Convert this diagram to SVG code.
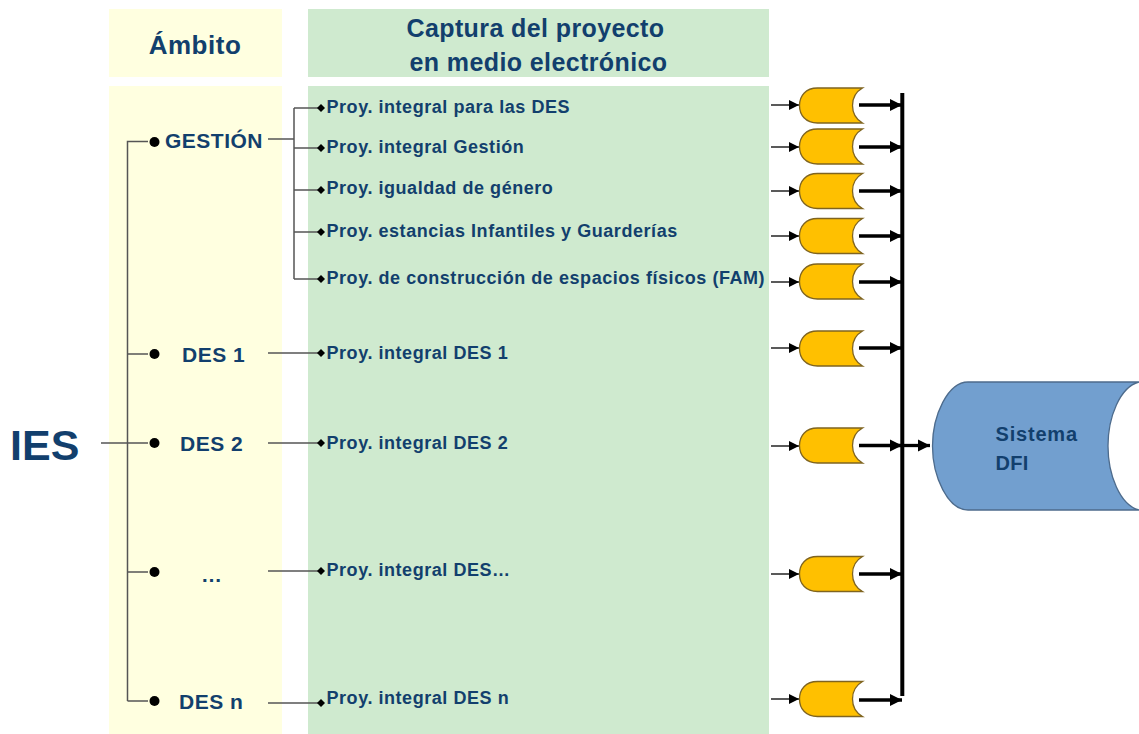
<svg xmlns="http://www.w3.org/2000/svg" width="1139" height="734" viewBox="0 0 1139 734">
<defs>
<style>
text{font-family:"Liberation Sans",Arial,sans-serif;font-weight:bold;fill:#123f6d}
.p{font-size:18px;letter-spacing:.55px}
.a{font-size:21px;letter-spacing:.5px}
.h{font-size:25px;letter-spacing:.4px}
.l{fill:none;stroke:#555;stroke-width:1.5}
.t{fill:none;stroke:#000;stroke-width:1.3}
.b{fill:none;stroke:#000;stroke-width:3.3}
.c{fill:#ffc000;stroke:#7f6420;stroke-width:1.3}
</style>
<marker id="ar" viewBox="0 0 10 10" refX="10" refY="5" markerWidth="11" markerHeight="10" markerUnits="userSpaceOnUse" orient="auto"><path d="M0 0L10 5L0 10Z" fill="#000"/></marker>
<marker id="ab" viewBox="0 0 10 10" refX="10" refY="5" markerWidth="12" markerHeight="13" markerUnits="userSpaceOnUse" orient="auto"><path d="M0 0L10 5L0 10Z" fill="#000"/></marker>
<path id="dr" class="c" d="M63 0H18C6 0 0 8 0 17.5S6 35 18 35H63C56 31 53 24 53 17.5S56 4 63 0Z"/>
<path id="di" d="M0-4L4 0L0 4L-4 0Z" fill="#000"/>
</defs>
<g id="panels">
<rect x="109" y="9" width="173" height="68" fill="#ffffe0"/>
<rect x="308" y="9" width="461" height="68" fill="#cfeacf"/>
<rect x="109" y="86" width="173" height="648" fill="#ffffe0"/>
<rect x="308" y="86" width="461" height="648" fill="#cfeacf"/>
</g>
<g id="connectors">
<path class="l" d="M101 443H148M127.500 701V141.500H148M127.500 354H148M127.500 572H148M127.500 701H148"/>
<path class="l" d="M268 139H294M294 108V279M294 108H318M294 148H318M294 190H318M294 232H318M294 279H318"/>
<path class="l" d="M268 353H318M268 443H318M268 571H318M268 703H318"/>
<g class="dots">
<circle cx="154.500" cy="142" r="5"/><circle cx="154.500" cy="354" r="5"/><circle cx="154.500" cy="443" r="5"/><circle cx="154.500" cy="572" r="5"/><circle cx="154.500" cy="701" r="5"/>
</g>
<use href="#di" x="321" y="108"/><use href="#di" x="321" y="148"/><use href="#di" x="321" y="190"/><use href="#di" x="321" y="232"/><use href="#di" x="321" y="279"/><use href="#di" x="321" y="353"/><use href="#di" x="321" y="443"/><use href="#di" x="321" y="571"/><use href="#di" x="321" y="703"/>
<path class="t" d="M771 105H799" marker-end="url(#ar)"/><path class="t" d="M771 147H799" marker-end="url(#ar)"/><path class="t" d="M771 191H799" marker-end="url(#ar)"/><path class="t" d="M771 236H799" marker-end="url(#ar)"/><path class="t" d="M771 282H799" marker-end="url(#ar)"/><path class="t" d="M771 348H799" marker-end="url(#ar)"/><path class="t" d="M771 446H799" marker-end="url(#ar)"/><path class="t" d="M771 574H799" marker-end="url(#ar)"/><path class="t" d="M771 699H799" marker-end="url(#ar)"/>
<path class="b" d="M859 105H902" marker-end="url(#ab)"/><path class="b" d="M859 147H902" marker-end="url(#ab)"/><path class="b" d="M859 191H902" marker-end="url(#ab)"/><path class="b" d="M859 236H902" marker-end="url(#ab)"/><path class="b" d="M859 282H902" marker-end="url(#ab)"/><path class="b" d="M859 348H902" marker-end="url(#ab)"/><path class="b" d="M859 445.500H902" marker-end="url(#ab)"/><path class="b" d="M859 574H902" marker-end="url(#ab)"/><path class="b" d="M859 700H902" marker-end="url(#ab)"/>
<path d="M902.300 93V696" fill="none" stroke="#000" stroke-width="4"/>
<path class="b" d="M902 445.500H930" marker-end="url(#ab)"/>
</g>
<g id="h-ambito"><text x="195" y="54" text-anchor="middle" font-size="26" letter-spacing=".5">Ámbito</text></g>
<g id="h-captura"><text class="h" x="535.500" y="37" text-anchor="middle">Captura del proyecto</text><text class="h" x="538.500" y="71" text-anchor="middle">en medio electrónico</text></g>
<g id="ies"><text x="10" y="460" font-size="43">IES</text></g>
<g id="a1"><text class="a" x="165" y="148">GESTIÓN</text></g>
<g id="a2"><text class="a" x="182" y="362">DES 1</text></g>
<g id="a3"><text class="a" x="180" y="451">DES 2</text></g>
<g id="a4"><text class="a" x="201" y="582">…</text></g>
<g id="a5"><text class="a" x="179" y="709">DES n</text></g>
<g id="p1"><text class="p" x="326.500" y="113">Proy. integral para las DES</text></g>
<g id="p2"><text class="p" x="326.500" y="153">Proy. integral Gestión</text></g>
<g id="p3"><text class="p" x="326.500" y="194">Proy. igualdad de género</text></g>
<g id="p4"><text class="p" x="326.500" y="237">Proy. estancias Infantiles y Guarderías</text></g>
<g id="p5"><text class="p" x="326.500" y="284">Proy. de construcción de espacios físicos (FAM)</text></g>
<g id="p6"><text class="p" x="326.500" y="359">Proy. integral DES 1</text></g>
<g id="p7"><text class="p" x="326.500" y="449">Proy. integral DES 2</text></g>
<g id="p8"><text class="p" x="326.500" y="576">Proy. integral DES…</text></g>
<g id="p9"><text class="p" x="326.500" y="704">Proy. integral DES n</text></g>
<g id="drums">
<use href="#dr" x="799.500" y="88"/><use href="#dr" x="799.500" y="129"/><use href="#dr" x="799.500" y="173.500"/><use href="#dr" x="799.500" y="218.500"/><use href="#dr" x="799.500" y="264"/><use href="#dr" x="799.500" y="331"/><use href="#dr" x="799.500" y="428"/><use href="#dr" x="799.500" y="556.500"/><use href="#dr" x="799.500" y="681.500"/>
</g>
<g id="sistema">
<path d="M1139 382H968C948 382 932.500 415 932.500 446S948 510 968 510H1139C1120 505 1108 475 1108 446S1120 387 1139 382Z" fill="#729fcf" stroke="#4d6b8c" stroke-width="1.3"/>
<text x="995.500" y="441" font-size="20" letter-spacing=".8">Sistema</text>
<text x="995.500" y="470" font-size="20" letter-spacing=".3">DFI</text>
</g>
</svg>
